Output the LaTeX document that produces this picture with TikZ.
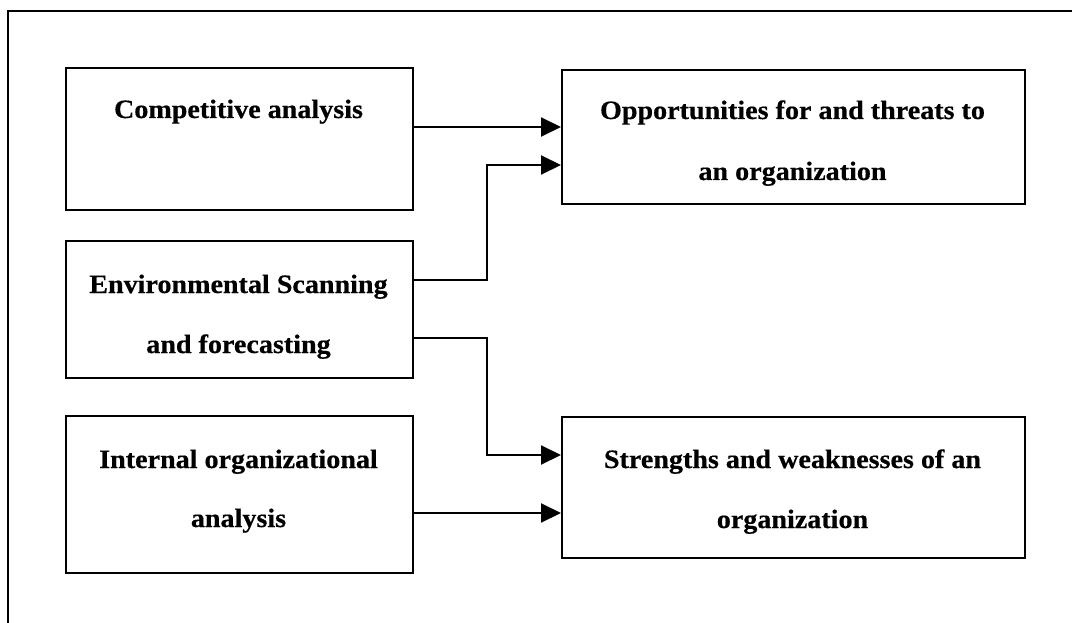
\documentclass[tikz,border=0pt]{standalone}
\usepackage{fontspec}
\newfontfamily\lblfont{Liberation Serif}[FakeStretch=1.06,FakeBold=0.5]
\usetikzlibrary{arrows.meta}
\begin{document}
\begin{tikzpicture}[x=1pt,y=-1pt,
  box/.style={draw=black, line width=2pt, anchor=north west, inner sep=0pt},
  lbl/.style={anchor=base, inner sep=0pt, font=\lblfont\bfseries\fontsize{26.5}{30}\selectfont},
  conn/.style={draw=black, line width=2pt, -{Triangle[length=20pt,width=19pt]}},
  frame/.style={draw=black, line width=2pt}]
\useasboundingbox (0,0) rectangle (1072,623);
\fill[white] (0,0) rectangle (1072,623);
% outer frame (cut by the page edges)
\draw[frame] (8,623) -- (8,11) -- (1072,11);
% left boxes
\node[box, minimum width=347pt, minimum height=142pt] (comp) at (65,67) {};
\node[box, minimum width=347pt, minimum height=137pt] (env) at (65,240) {};
\node[box, minimum width=347pt, minimum height=157pt] (int) at (65,415) {};
% right boxes
\node[box, minimum width=463pt, minimum height=134pt] (opp) at (561,69) {};
\node[box, minimum width=463pt, minimum height=141pt] (str) at (561,416) {};
% texts
\node[lbl] (compT) at (238.5,118) {Competitive analysis};
\node[lbl] (envT1) at (238.5,293) {Environmental Scanning};
\node[lbl] (envT2) at (238.5,353) {and forecasting};
\node[lbl] (intT1) at (238.5,468) {Internal organizational};
\node[lbl] (intT2) at (238.5,527) {analysis};
\node[lbl] (oppT1) at (792.5,119) {Opportunities for and threats to};
\node[lbl] (oppT2) at (792.5,180) {an organization};
\node[lbl] (strT1) at (792.5,468) {Strengths and weaknesses of an};
\node[lbl] (strT2) at (792.5,528) {organization};
% connectors
\draw[conn] (comp.east |- 0,127) -- (opp.west |- 0,127);
\draw[conn] (env.east |- 0,280) -- (487,280) -- (487,165) -- (opp.west |- 0,165);
\draw[conn] (env.east |- 0,338) -- (487,338) -- (487,455) -- (str.west |- 0,455);
\draw[conn] (int.east |- 0,513) -- (str.west |- 0,513);
\end{tikzpicture}
\end{document}
